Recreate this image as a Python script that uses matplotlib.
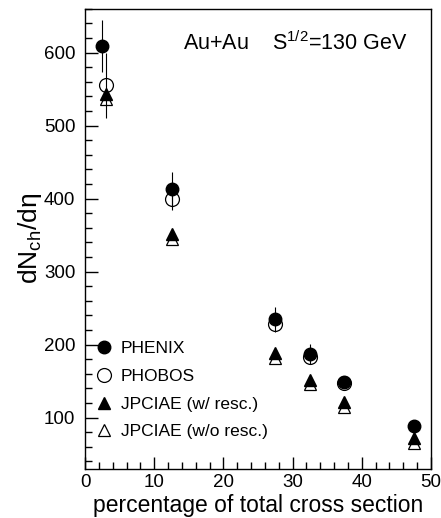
import numpy as np
import matplotlib as mpl
mpl.use('Agg')
from matplotlib import pyplot as plt
from matplotlib.lines import Line2D
from matplotlib.ticker import MultipleLocator

mpl.rcParams['font.family'] = ['Liberation Sans', 'DejaVu Sans']
mpl.rcParams['mathtext.fontset'] = 'custom'
mpl.rcParams['mathtext.rm'] = 'Liberation Sans'
mpl.rcParams['mathtext.it'] = 'Liberation Sans:italic'

# centrality bins (percentage of total cross section)
x_phenix = [2.5, 12.5, 27.5, 32.5, 37.5, 47.5]
y_phenix = [609, 413, 235, 187, 149, 89]
e_phenix = [36, 24, 17, 14, 8, 0]

x_phobos = [3.0, 12.5, 27.5, 32.5, 37.5]
y_phobos = [555, 399, 228, 183, 148]
e_phobos = [45, 14, 0, 0, 0]

x_jpciae = [3.0, 12.5, 27.5, 32.5, 37.5, 47.5]
y_resc = [543, 352, 188, 152, 121, 72]
y_noresc = [536, 345, 182, 146, 115, 66]

fig = plt.figure(figsize=(4.41, 5.18), dpi=100)
ax = fig.add_axes([0.193, 0.095, 0.784, 0.888])

ms = 9
ax.errorbar(x_phenix, y_phenix, yerr=e_phenix, fmt='o', color='black',
            ms=ms, elinewidth=0.8, capsize=0, zorder=3)
ax.errorbar(x_phobos, y_phobos, yerr=e_phobos, fmt='o', mfc='none', mec='black',
            ecolor='black', ms=ms + 1, mew=0.9, elinewidth=0.8, capsize=0, zorder=2)
ax.plot(x_jpciae, y_resc, '^', color='black', ms=ms, zorder=3)
ax.plot(x_jpciae, y_noresc, '^', mfc='none', mec='black', ms=ms, mew=0.9, zorder=4)

ax.set_xlim(0, 50)
ax.set_ylim(30, 660)
ax.xaxis.set_major_locator(MultipleLocator(10))
ax.xaxis.set_minor_locator(MultipleLocator(2))
ax.yaxis.set_major_locator(MultipleLocator(100))
ax.yaxis.set_minor_locator(MultipleLocator(20))
ax.tick_params(which='both', direction='in', top=False, right=False, labelsize=13.5, width=1)
ax.tick_params(which='major', length=9)
ax.tick_params(which='minor', length=5)
ax.tick_params(axis='y', pad=7)
ax.tick_params(axis='x', pad=4)
for s in ax.spines.values():
    s.set_linewidth(1)

ax.set_xlabel('percentage of total cross section', fontsize=16.5, labelpad=2)
ax.set_ylabel('dN$_{\\rm ch}$/dη', fontsize=19, labelpad=0)

ax.text(0.283, 0.925, r'Au+Au    S$^{1/2}$=130 GeV', transform=ax.transAxes,
        fontsize=15.5, va='center', ha='left')

handles = [
    Line2D([], [], ls='none', marker='o', color='black', ms=ms),
    Line2D([], [], ls='none', marker='o', mfc='none', mec='black', ms=ms + 1, mew=0.9),
    Line2D([], [], ls='none', marker='^', color='black', ms=ms),
    Line2D([], [], ls='none', marker='^', mfc='none', mec='black', ms=ms, mew=0.9),
]
labels = ['PHENIX', 'PHOBOS', 'JPCIAE (w/ resc.)', 'JPCIAE (w/o resc.)']
ax.legend(handles, labels, loc='lower left', bbox_to_anchor=(-0.01, 0.03),
          frameon=False, fontsize=12.5, handlelength=0.8, handletextpad=0.55,
          labelspacing=0.72)

fig.savefig('out.png', dpi=100)
